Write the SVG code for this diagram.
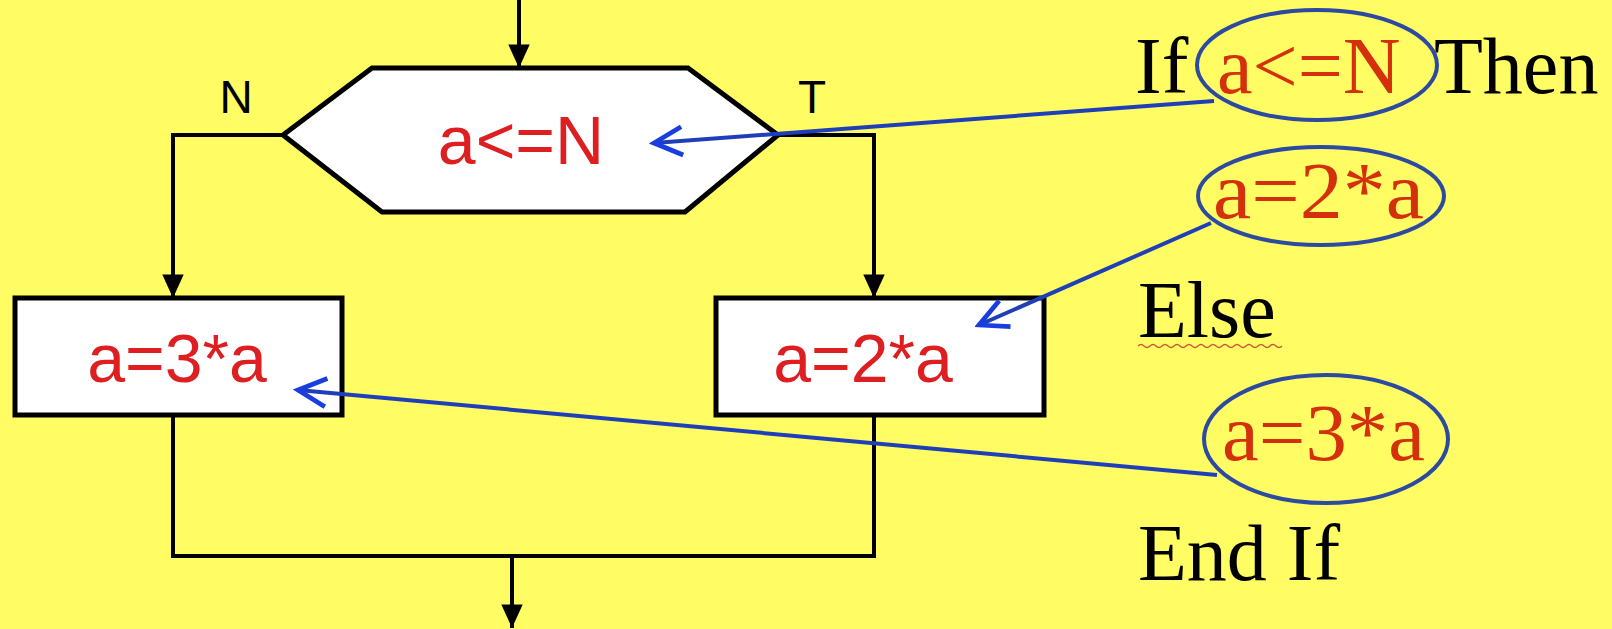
<svg xmlns="http://www.w3.org/2000/svg" width="1612" height="629" viewBox="0 0 1612 629">
  <style>
    .ln { fill: none; stroke: #000; stroke-width: 4; }
    .shape { fill: #fff; stroke: #000; stroke-width: 5; }
    .arial { font-family: "Liberation Sans", Arial, sans-serif; }
    .red1 { fill: #dd1f22; font-size: 68px; text-anchor: middle; }
    .lbl { fill: #000; font-size: 46px; text-anchor: middle; }
    .times { font-family: "Liberation Serif", "Times New Roman", serif; font-size: 80px; fill: #000; }
    .red2 { fill: #d4300c; }
    .ell { fill: none; stroke: #2b4aa0; stroke-width: 4; }
    .blue { fill: none; stroke: #1f3fb8; stroke-width: 4; }
  </style>
  <defs>
    <marker id="ah" markerUnits="userSpaceOnUse" markerWidth="30" markerHeight="30" viewBox="-24 -12 28 24" refX="0" refY="0" orient="auto">
      <path d="M0,0 L-22,-10 L-22,10 Z" fill="#000"/>
    </marker>
    <marker id="bh" markerUnits="userSpaceOnUse" markerWidth="40" markerHeight="40" viewBox="-30 -16 34 32" refX="0" refY="0" orient="auto">
      <path d="M-24,-12 L0,0 L-24,12" fill="none" stroke="#1a3de0" stroke-width="4" stroke-linejoin="miter"/>
    </marker>
  </defs>
  <rect x="0" y="0" width="1612" height="629" fill="#fffc64"/>

  <g id="connectors">
    <path class="ln" d="M519,0 L519,68" marker-end="url(#ah)"/>
    <path class="ln" d="M283,135 L173,135 L173,298" marker-end="url(#ah)"/>
    <path class="ln" d="M778,135 L874,135 L874,298" marker-end="url(#ah)"/>
    <path class="ln" d="M173,416 L173,556 L874,556 L874,416"/>
    <path class="ln" d="M512,556 L512,628" marker-end="url(#ah)"/>
    <text class="arial lbl" x="236" y="113">N</text>
    <text class="arial lbl" x="812" y="113">T</text>
  </g>

  <g id="decision">
    <polygon class="shape" points="372,68 688,68 778,135 685,212 382,212 283,135"/>
    <text class="arial red1" x="521" y="164">a&lt;=N</text>
  </g>

  <g id="box-left">
    <rect class="shape" x="15" y="298" width="327" height="117"/>
    <text class="arial red1" x="177" y="382">a=3*a</text>
  </g>

  <g id="box-right">
    <rect class="shape" x="716" y="298" width="328" height="117"/>
    <text class="arial red1" x="863" y="382">a=2*a</text>
  </g>

  <g id="code">
    <text class="times" y="93"><tspan x="1135">If</tspan><tspan x="1217" class="red2">a&lt;=N</tspan><tspan x="1434">Then</tspan></text>
    <ellipse class="ell" cx="1317" cy="65" rx="120" ry="55"/>
    <text class="times red2" x="1213" y="218" textLength="211" lengthAdjust="spacingAndGlyphs">a=2*a</text>
    <ellipse class="ell" cx="1321" cy="196" rx="123" ry="49"/>
    <text class="times" x="1138" y="337">Else</text>
    <path d="M1138,346 q3,-3 6,0 t6,0 t6,0 t6,0 t6,0 t6,0 t6,0 t6,0 t6,0 t6,0 t6,0 t6,0 t6,0 t6,0 t6,0 t6,0 t6,0 t6,0 t6,0 t6,0 t6,0 t6,0 t6,0 t6,0" fill="none" stroke="#c85a3a" stroke-width="1.5"/>
    <text class="times red2" x="1222" y="460" textLength="203" lengthAdjust="spacingAndGlyphs">a=3*a</text>
    <ellipse class="ell" cx="1326" cy="439" rx="122" ry="64"/>
    <text class="times" x="1138" y="580" font-size="82">End If</text>
  </g>

  <g id="pointers">
    <path class="blue" d="M1214,101 L654,143" marker-end="url(#bh)"/>
    <path class="blue" d="M1211,223 L979,325" marker-end="url(#bh)"/>
    <path class="blue" d="M1217,475 L298,390" marker-end="url(#bh)"/>
  </g>
</svg>
